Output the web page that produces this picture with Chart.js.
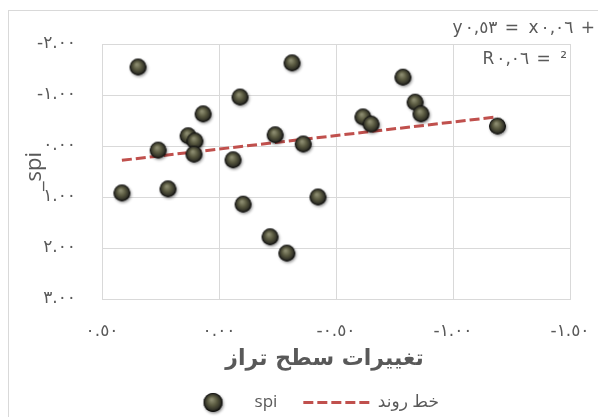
<!DOCTYPE html>
<html>
<head>
<meta charset="utf-8">
<script src="https://cdn.jsdelivr.net/npm/chart.js@4/dist/chart.umd.min.js"></script>
<style>
  html, body { margin: 0; padding: 0; background: #fff; }
  #wrap { position: relative; width: 598px; height: 417px; }
</style>
</head>
<body>
<div id="wrap"><canvas id="spiChart" width="598" height="417"></canvas></div>
<script>
// level change (x) vs spi (y)
const levelChange = [0.346, -0.312, -0.09, 0.068, 0.132, 0.103, 0.107, 0.26, -0.24, -0.36, -0.06, 0.415,
                     0.218, -0.103, -0.423, -0.218, -0.29, -0.615, -0.65, -0.786, -0.838, -0.863, -1.19];
const spiValues = [-1.55, -1.63, -0.96, -0.63, -0.20, -0.10, 0.16, 0.08, -0.22, -0.04, 0.27, 0.92,
                   0.84, 1.14, 1.00, 1.78, 2.10, -0.57, -0.43, -1.35, -0.86, -0.63, -0.39];

// trendline as printed on the chart
const trendSlope = 0.53;
const trendIntercept = 0.06;
const trendLabel = 'y٠,٥٣ = x٠,٠٦ +';
const r2Label = 'R٠,٠٦ = ²';

const xTicks = [0.5, 0, -0.5, -1, -1.5];
const yTicks = [-2, -1, 0, 1, 2, 3];

const xTitle = 'تغییرات سطح تراز';
const yTitle = '_spi';
const legendNames = ['spi', 'خط روند'];

const textColor = '#595959';
const gridColor = '#d9d9d9';
const trendColor = '#c0504d';

function toArabicDigits(s) {
    return s.replace(/[0-9]/g, d => String.fromCharCode(0x660 + Number(d)));
}

function makeSphere(r) {
    const pad = 4;
    const size = Math.ceil(2 * r + 2 * pad);
    const c = document.createElement('canvas');
    c.width = size; c.height = size;
    const g = c.getContext('2d');
    const cx = size / 2, cy = size / 2;
    g.shadowColor = 'rgba(0,0,0,0.45)';
    g.shadowBlur = 3;
    g.shadowOffsetX = 1;
    g.shadowOffsetY = 1.5;
    g.beginPath(); g.arc(cx, cy, r, 0, Math.PI * 2);
    g.fillStyle = '#111'; g.fill();
    g.shadowColor = 'transparent';
    const grad = g.createRadialGradient(cx - r * 0.15, cy - r * 0.3, r * 0.1, cx, cy, r);
    grad.addColorStop(0, '#8a8a6e');
    grad.addColorStop(0.45, '#58583f');
    grad.addColorStop(0.78, '#35352a');
    grad.addColorStop(1, '#070706');
    g.beginPath(); g.arc(cx, cy, r, 0, Math.PI * 2);
    g.fillStyle = grad; g.fill();
    return c;
}

const sphere = makeSphere(8.3);
const legendSphere = makeSphere(9.5);

const points = levelChange.map((x, i) => ({ x: x, y: spiValues[i] }));
const xMin = Math.min(...levelChange), xMax = Math.max(...levelChange);
const trendPoints = [xMax, xMin].map(x => ({ x: x, y: trendSlope * x + trendIntercept }));

const frame = {
    id: 'frame',
    beforeDraw(chart) {
        const ctx = chart.ctx;
        ctx.save();
        ctx.fillStyle = '#fff';
        ctx.fillRect(0, 0, chart.width, chart.height);
        ctx.strokeStyle = gridColor;
        ctx.lineWidth = 1;
        ctx.strokeRect(8.5, 10.5, 700, 500);
        ctx.restore();
    },
    afterDraw(chart) {
        const ctx = chart.ctx;
        const a = chart.chartArea;
        ctx.save();
        ctx.fillStyle = textColor;
        ctx.textAlign = 'right';
        ctx.textBaseline = 'middle';
        ctx.font = '17px "DejaVu Sans"';
        ctx.letterSpacing = '2px';
        ctx.fillText(trendLabel, a.right + 27, a.top - 15);
        ctx.fillText(r2Label, a.right - 1, a.top + 16);
        ctx.restore();
    }
};

new Chart(document.getElementById('spiChart').getContext('2d'), {
    type: 'scatter',
    data: {
        datasets: [{
            label: legendNames[0],
            data: points,
            pointStyle: sphere,
            pointRadius: 8,
            pointHoverRadius: 8
        }, {
            type: 'line',
            label: legendNames[1],
            data: trendPoints,
            showLine: true,
            borderColor: trendColor,
            borderWidth: 3,
            borderDash: [10, 4],
            pointRadius: 0,
            fill: false
        }]
    },
    options: {
        responsive: false,
        animation: false,
        layout: { padding: { left: 28, right: 7, top: 44, bottom: -4 } },
        plugins: {
            tooltip: { enabled: false },
            legend: {
                position: 'bottom',
                labels: {
                    usePointStyle: true,
                    pointStyleWidth: 66,
                    padding: 26,
                    color: textColor,
                    font: { family: '"Open Sans", "DejaVu Sans"', size: 17 },
                    generateLabels: () => [
                        { text: legendNames[0], pointStyle: legendSphere, fillStyle: 'transparent',
                          strokeStyle: 'transparent', lineWidth: 0, datasetIndex: 0, fontColor: textColor },
                        { text: legendNames[1], pointStyle: 'line', fillStyle: trendColor,
                          strokeStyle: trendColor, lineWidth: 3, lineDash: [10, 4], datasetIndex: 1, fontColor: textColor }
                    ]
                }
            }
        },
        scales: {
            x: {
                type: 'linear',
                min: -1.5,
                max: 0.5,
                reverse: true,
                afterFit: s => { s.height = 69; s.paddingLeft = 0; s.paddingRight = 0; },
                afterBuildTicks: s => { s.ticks = xTicks.map(v => ({ value: v })); },
                grid: { color: gridColor, drawTicks: false },
                border: { color: gridColor },
                ticks: {
                    padding: 22,
                    color: textColor,
                    font: { family: '"DejaVu Sans"', size: 17 },
                    callback: v => toArabicDigits(Number(v).toFixed(2))
                },
                title: {
                    display: true,
                    text: xTitle + '   ',
                    color: textColor,
                    padding: 0,
                    font: { family: '"DejaVu Sans"', size: 22, weight: 'bold', lineHeight: '17px' }
                }
            },
            y: {
                type: 'linear',
                min: -2,
                max: 3,
                reverse: true,
                afterFit: s => { s.width = 74; s.paddingTop = 0; s.paddingBottom = 0; },
                afterBuildTicks: s => { s.ticks = yTicks.map(v => ({ value: v })); },
                grid: { color: gridColor, drawTicks: false },
                border: { color: gridColor },
                ticks: {
                    padding: 26,
                    color: textColor,
                    font: { family: '"DejaVu Sans"', size: 17 },
                    callback: v => toArabicDigits(Number(v).toFixed(2))
                },
                title: {
                    display: true,
                    text: yTitle,
                    color: textColor,
                    padding: 0,
                    font: { family: '"Open Sans", "DejaVu Sans"', size: 22, lineHeight: '14px' }
                }
            },
            y2: {
                type: 'linear',
                position: 'right',
                afterFit: s => { s.width = 21; s.paddingTop = 0; s.paddingBottom = 0; },
                grid: { display: false },
                border: { display: false },
                ticks: { display: false }
            }
        }
    },
    plugins: [frame]
});
</script>
</body>
</html>
